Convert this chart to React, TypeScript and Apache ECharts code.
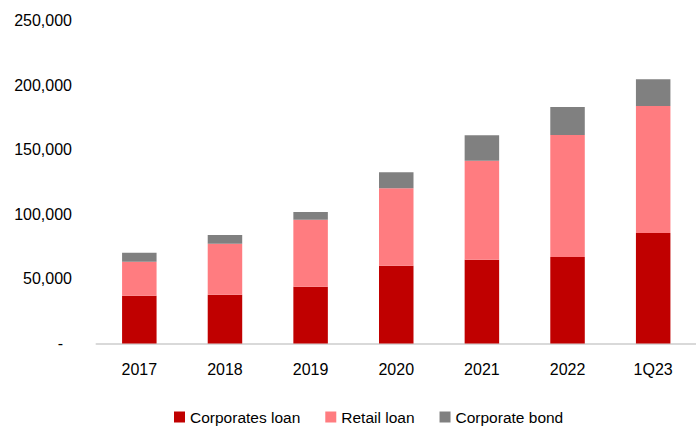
import React, { useEffect, useRef } from "react";
import * as echarts from "echarts";

const categories = ["2017", "2018", "2019", "2020", "2021", "2022", "1Q23"];
const corporatesLoan = [37000, 37800, 44000, 60200, 64900, 67000, 85500];
const retailLoan = [26300, 39400, 51800, 59900, 76600, 94400, 98300];
const corporateBond = [7000, 6800, 6000, 12400, 19600, 21600, 20700];
const yTicks = [0, 50000, 100000, 150000, 200000, 250000];

const FONT = "'Liberation Sans', Arial, sans-serif";

export default function App() {
  const ref = useRef<HTMLDivElement>(null);
  useEffect(() => {
    if (!ref.current) return;
    const chart = echarts.init(ref.current, undefined, { renderer: "svg" });
    const fmt = (v: number) =>
      v === 0 ? "{d|-}" : v.toLocaleString("en-US");
    chart.setOption({
      animation: false,
      grid: { left: 96.5, top: 20.5, width: 604.8, height: 323, containLabel: false },
      legend: {
        data: ["Corporates loan", "Retail loan", "Corporate bond"],
        left: 169,
        top: 404,
        itemWidth: 11,
        itemHeight: 11,
        itemGap: 25,
        icon: "rect",
        textStyle: { fontFamily: FONT, fontSize: 15.5, color: "#000" },
      },
      xAxis: {
        type: "category",
        data: categories,
        axisLine: { lineStyle: { color: "#D9D9D9", width: 2 } },
        axisTick: { show: false },
        axisLabel: { fontFamily: FONT, fontSize: 16, color: "#000", margin: 18 },
      },
      yAxis: {
        type: "value",
        min: yTicks[0],
        max: yTicks[yTicks.length - 1],
        interval: 50000,
        splitLine: { show: false },
        axisLine: { show: false },
        axisTick: { show: false },
        axisLabel: {
          fontFamily: FONT,
          fontSize: 16,
          color: "#000",
          margin: 24.5,
          formatter: fmt,
          rich: { d: { fontFamily: FONT, fontSize: 16, color: "#000", padding: [0, 9, 0, 0] } },
        },
      },
      series: [
        { name: "Corporates loan", type: "bar", stack: "a", data: corporatesLoan, barWidth: 34.5, itemStyle: { color: "#C00000" } },
        { name: "Retail loan", type: "bar", stack: "a", data: retailLoan, barWidth: 34.5, itemStyle: { color: "#FF7C80" } },
        { name: "Corporate bond", type: "bar", stack: "a", data: corporateBond, barWidth: 34.5, itemStyle: { color: "#808080" } },
      ],
    });
    return () => chart.dispose();
  }, []);
  return (
    <div
      ref={ref}
      style={{ position: "fixed", left: 0, top: 0, width: 696, height: 426, background: "#fff" }}
    />
  );
}
